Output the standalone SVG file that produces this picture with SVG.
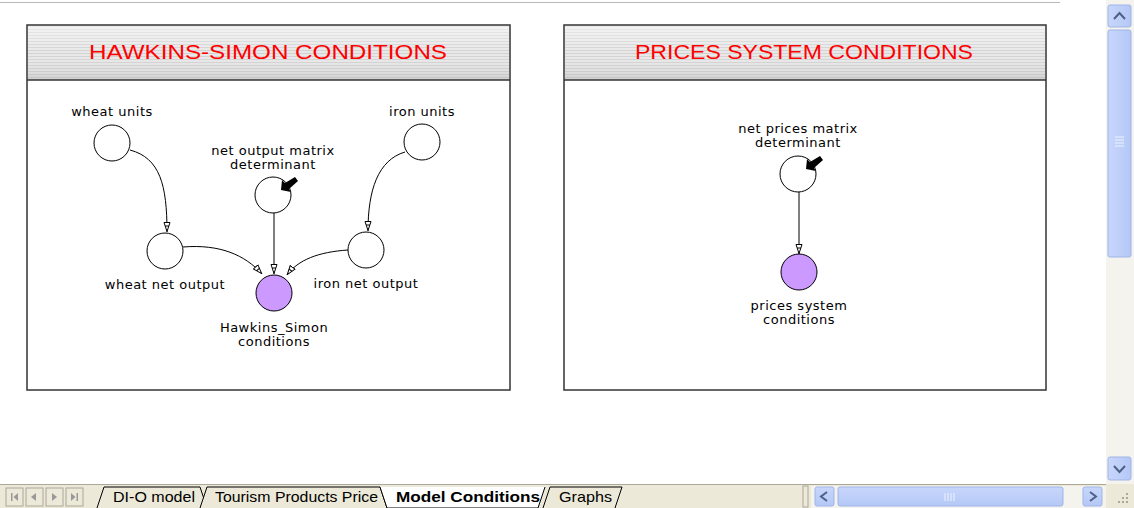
<svg xmlns="http://www.w3.org/2000/svg" width="1134" height="508" viewBox="0 0 1134 508">
<defs>
<pattern id="stripes" x="0" y="0" width="4" height="3" patternUnits="userSpaceOnUse">
<rect width="4" height="3" fill="#e8e8e8"/>
<rect y="2" width="4" height="1" fill="#d2d2d2"/>
</pattern>
<linearGradient id="shade" x1="0" y1="0" x2="0" y2="1">
<stop offset="0" stop-color="#ffffff" stop-opacity="0.5"/>
<stop offset="0.5" stop-color="#ffffff" stop-opacity="0"/>
<stop offset="1" stop-color="#a0a0a0" stop-opacity="0.35"/>
</linearGradient>
<linearGradient id="sbV" x1="0" y1="0" x2="1" y2="0">
<stop offset="0" stop-color="#c8d6fb"/>
<stop offset="1" stop-color="#b4c8f6"/>
</linearGradient>
<linearGradient id="sbH" x1="0" y1="0" x2="0" y2="1">
<stop offset="0" stop-color="#c8d6fb"/>
<stop offset="1" stop-color="#b4c8f6"/>
</linearGradient>
<marker id="ah" viewBox="0 0 10 8" refX="10" refY="4" markerWidth="10" markerHeight="8" markerUnits="userSpaceOnUse" orient="auto">
<path d="M0.5,1 L9.5,4 L0.5,7 Z M4,2.2 L4,5.8" fill="#fff" stroke="#000" stroke-width="1"/>
</marker>
</defs>
<style>
.panel{fill:#fff;stroke:#333;stroke-width:1.5}
.title{font-family:"Liberation Sans",Arial,sans-serif;font-size:20px;fill:#ff0000;text-anchor:middle}
.lbl{font-family:"DejaVu Sans","Liberation Sans",sans-serif;font-size:13px;letter-spacing:0.5px;fill:#000;text-anchor:middle}
.aux{fill:#fff;stroke:#000;stroke-width:1}
.goal{fill:#cc99ff;stroke:#000;stroke-width:1}
.link{fill:none;stroke:#000;stroke-width:1;marker-end:url(#ah)}
.inarr{fill:#000}
.tab{font-family:"Liberation Sans",Tahoma,sans-serif;font-size:15px;fill:#000}
</style>
<rect width="1134" height="508" fill="#fff"/>
<line x1="0" y1="2.5" x2="1060" y2="2.5" stroke="#b8b8b8" stroke-width="1"/>

<g id="panel-hawkins">
<rect class="panel" x="27" y="25" width="483" height="365"/>
<rect x="28" y="26" width="481" height="54" fill="url(#stripes)"/>
<rect x="28" y="26" width="481" height="54" fill="url(#shade)"/>
<line x1="27" y1="80" x2="510" y2="80" stroke="#333" stroke-width="1.5"/>
<text class="title" x="268" y="59" textLength="358" lengthAdjust="spacingAndGlyphs">HAWKINS-SIMON CONDITIONS</text>
</g>

<g id="panel-prices">
<rect class="panel" x="564" y="25" width="482" height="365"/>
<rect x="565" y="26" width="480" height="54" fill="url(#stripes)"/>
<rect x="565" y="26" width="480" height="54" fill="url(#shade)"/>
<line x1="564" y1="80" x2="1046" y2="80" stroke="#333" stroke-width="1.5"/>
<text class="title" x="804" y="59" textLength="338" lengthAdjust="spacingAndGlyphs">PRICES SYSTEM CONDITIONS</text>
</g>

<g id="connectors">
<path class="link" d="M130,150 C160,158 167,185 167,232"/>
<path class="link" d="M405,152 C378,160 368,190 368,231"/>
<path class="link" d="M274,213 L274,274"/>
<path class="link" d="M183,247 C220,244 245,255 262,274"/>
<path class="link" d="M348,250 C318,252 298,260 287,275"/>
<path class="link" d="M799,192 L799,254"/>
</g>

<g id="node-wheat-units">
<circle class="aux" cx="112" cy="143" r="18"/>
<text class="lbl" x="112" y="116">wheat units</text>
</g>
<g id="node-net-output-det">
<circle class="aux" cx="273" cy="195" r="18"/>
<polygon class="inarr" points="295,177 298,181 289,189 291,192 281,190 282,180 285,183"/>
<text class="lbl" x="273" y="155">net output matrix</text>
<text class="lbl" x="273" y="169">determinant</text>
</g>
<g id="node-iron-units">
<circle class="aux" cx="422" cy="142" r="18"/>
<text class="lbl" x="422" y="116">iron units</text>
</g>
<g id="node-wheat-net-output">
<circle class="aux" cx="165" cy="251" r="18"/>
<text class="lbl" x="165" y="289">wheat net output</text>
</g>
<g id="node-iron-net-output">
<circle class="aux" cx="366" cy="250" r="18"/>
<text class="lbl" x="366" y="288">iron net output</text>
</g>
<g id="node-hawkins-simon">
<circle class="goal" cx="274" cy="293" r="18"/>
<text class="lbl" x="274" y="332">Hawkins_Simon</text>
<text class="lbl" x="274" y="346">conditions</text>
</g>
<g id="node-net-prices-det">
<circle class="aux" cx="798" cy="174" r="18"/>
<polygon class="inarr" points="820,156 823,160 814,168 816,171 806,169 807,159 810,162"/>
<text class="lbl" x="798" y="133">net prices matrix</text>
<text class="lbl" x="798" y="147">determinant</text>
</g>
<g id="node-prices-system">
<circle class="goal" cx="799" cy="272" r="18"/>
<text class="lbl" x="799" y="310">prices system</text>
<text class="lbl" x="799" y="324">conditions</text>
</g>

<g id="vscroll">
<rect x="1106" y="0" width="28" height="484" fill="#f4f3ee"/>
<rect x="1108" y="5" width="23" height="22" rx="2" fill="url(#sbV)" stroke="#9fb5e8"/>
<path d="M1114,19 L1119.5,13 L1125,19" fill="none" stroke="#4d6185" stroke-width="2"/>
<rect x="1108" y="30" width="23" height="227" rx="2" fill="url(#sbV)" stroke="#9fb5e8"/>
<path d="M1115,137 h9 M1115,140 h9 M1115,143 h9 M1115,146 h9" stroke="#eef3ff" stroke-width="1"/>
<rect x="1108" y="457" width="23" height="23" rx="2" fill="url(#sbV)" stroke="#9fb5e8"/>
<path d="M1114,466 L1119.5,472 L1125,466" fill="none" stroke="#4d6185" stroke-width="2"/>
</g>

<g id="tabbar">
<rect x="0" y="484" width="1134" height="24" fill="#ece9d8"/>
<line x1="0" y1="484.5" x2="1106" y2="484.5" stroke="#aca899"/>
<g fill="#ece9d8" stroke="#aca899">
<rect x="6" y="488" width="17" height="18"/>
<rect x="26" y="488" width="17" height="18"/>
<rect x="46" y="488" width="17" height="18"/>
<rect x="66" y="488" width="17" height="18"/>
</g>
<g fill="#999">
<rect x="11" y="493" width="1.5" height="8"/><polygon points="18,493 18,501 13.5,497"/>
<polygon points="36,493 36,501 31,497"/>
<polygon points="52,493 52,501 57,497"/>
<polygon points="71,493 71,501 75.5,497"/><rect x="76.5" y="493" width="1.5" height="8"/>
</g>
<path d="M97,508 L104,487 L200,487 L207,508" fill="#ece9d8" stroke="#000" stroke-width="1"/>
<text class="tab" x="113" y="502" textLength="82" lengthAdjust="spacingAndGlyphs">DI-O model</text>
<path d="M200,508 L207,487 L380,487 L387,508" fill="#ece9d8" stroke="#000" stroke-width="1"/>
<text class="tab" x="215" y="502" textLength="163" lengthAdjust="spacingAndGlyphs">Tourism Products Price</text>
<path d="M543,508 L550,487 L622,487 L615,508" fill="#ece9d8" stroke="#000" stroke-width="1"/>
<text class="tab" x="559" y="502" textLength="53" lengthAdjust="spacingAndGlyphs">Graphs</text>
<path d="M380,487 L387,508 L538,508 L545,487" fill="#fff" stroke="#000" stroke-width="1"/>
<text class="tab" x="396" y="502" font-weight="bold" textLength="144" lengthAdjust="spacingAndGlyphs">Model Conditions</text>
<rect x="803" y="486" width="5" height="21" fill="#ece9d8" stroke="#aca899"/>
<rect x="811" y="486" width="295" height="22" fill="#f4f3ee"/>
<rect x="815" y="487" width="19" height="19" rx="2" fill="url(#sbH)" stroke="#9fb5e8"/>
<path d="M827,492 L821,496.5 L827,501" fill="none" stroke="#4d6185" stroke-width="2"/>
<rect x="838" y="487" width="225" height="19" rx="2" fill="url(#sbH)" stroke="#9fb5e8"/>
<path d="M945,493 v8 M948,493 v8 M951,493 v8 M954,493 v8" stroke="#eef3ff" stroke-width="1"/>
<rect x="1083" y="487" width="19" height="19" rx="2" fill="url(#sbH)" stroke="#9fb5e8"/>
<path d="M1090,492 L1096,496.5 L1090,501" fill="none" stroke="#4d6185" stroke-width="2"/>
<g fill="#aca899">
<rect x="1126" y="493" width="2" height="2"/>
<rect x="1122" y="497" width="2" height="2"/><rect x="1126" y="497" width="2" height="2"/>
<rect x="1118" y="501" width="2" height="2"/><rect x="1122" y="501" width="2" height="2"/><rect x="1126" y="501" width="2" height="2"/>
</g>
</g>
</svg>
